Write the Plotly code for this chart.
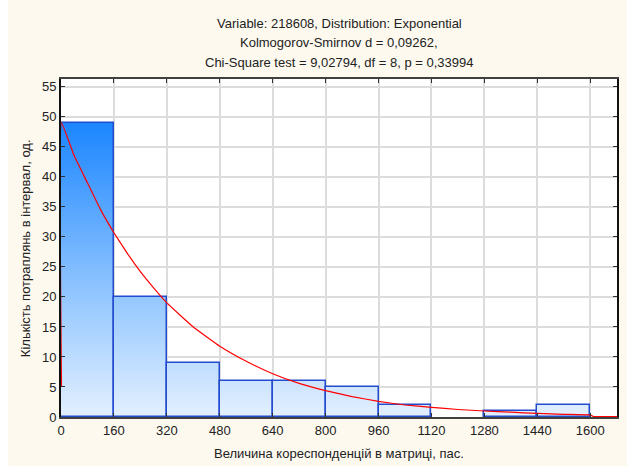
import plotly.graph_objects as go
import numpy as np

# ---- data ----
bin_left = [0, 160, 320, 480, 640, 800, 960, 1120, 1280, 1440, 1600]
counts = [49, 20, 9, 6, 6, 5, 2, 0, 1, 2, 0]
bin_width = 160

curve_x = [1.5, 1.5, 40, 80, 120, 160, 200, 240, 280, 320, 400, 480, 560, 640, 720, 800,
           880, 960, 1040, 1120, 1200, 1280, 1360, 1440, 1520, 1600, 1610, 1681]
curve_y = [5, 49, 43.5, 39, 34.5, 30.7, 27.3, 24.2, 21.5, 19, 15, 11.8, 9.3, 7.2, 5.6, 4.4,
           3.4, 2.6, 2.0, 1.6, 1.25, 1.0, 0.8, 0.6, 0.45, 0.35, 0.08, 0.08]

x_ticks = [0, 160, 320, 480, 640, 800, 960, 1120, 1280, 1440, 1600]
y_ticks = [0, 5, 10, 15, 20, 25, 30, 35, 40, 45, 50, 55]

title_lines = ["Variable: 218608, Distribution: Exponential",
               "Kolmogorov-Smirnov d = 0,09262,",
               "Chi-Square test = 9,02794, df = 8, p = 0,33994"]
x_title = "Величина кореспонденцій в матриці, пас."
y_title = "Кількість потраплянь в інтервал, од."

# ---- build gradient-filled bars (layers drawn from tall to short) ----
centers = [b + bin_width / 2 for b in bin_left]
levels = np.arange(max(counts), 0, -0.25)
gx, gy, gc = [], [], []
for L in levels:
    for c, v in zip(centers, counts):
        if v > 0:
            gx.append(c)
            gy.append(min(v, L))
            gc.append(L)

ox = [c for c, v in zip(centers, counts) if v > 0]
oy = [v for v in counts if v > 0]

W, H = 627, 466
ml, mr, mt, mb = 61, 8, 79, 49
pw, ph = W - ml - mr, H - mt - mb

fig = go.Figure()
fig.add_trace(go.Bar(
    x=gx, y=gy, width=bin_width,
    marker=dict(color=gc, cmin=0, cmax=max(counts),
                colorscale=[[0, "rgb(228,240,255)"], [0.4, "rgb(150,200,255)"], [1, "rgb(28,134,255)"]],
                line=dict(width=0)),
    hoverinfo="skip", showlegend=False))
fig.add_trace(go.Bar(
    x=ox, y=oy, width=bin_width,
    marker=dict(color="rgba(0,0,0,0)", line=dict(color="rgb(35,75,205)", width=1.5)),
    showlegend=False))
fig.add_trace(go.Scatter(
    x=curve_x, y=curve_y, mode="lines",
    line=dict(color="rgb(255,0,0)", width=1.2, shape="spline", smoothing=0.3),
    showlegend=False))

font = dict(family="Liberation Sans, Arial, sans-serif", size=13, color="#222222")

axis_common = dict(showline=True, linecolor="#404040", linewidth=2, mirror="ticks",
                   ticks="inside", ticklen=4, tickcolor="#303030",
                   showgrid=True, gridcolor="#dcdcdc", gridwidth=1.5, zeroline=False,
                   tickfont=font, layer="above traces")

fig.update_layout(
    width=W, height=H,
    margin=dict(l=ml, r=mr, t=mt, b=mb),
    paper_bgcolor="#fdf9ef", plot_bgcolor="white",
    barmode="overlay", bargap=0,
    font=font,
    xaxis=dict(range=[0, 1681], tickvals=x_ticks, **axis_common),
    yaxis=dict(range=[0, 56.3], tickvals=y_ticks, **axis_common),
)
fig.update_yaxes(linecolor="#111111")

# white strip along the left edge of the picture
fig.add_shape(type="rect", xref="paper", yref="paper",
              x0=-ml / pw, x1=(8 - ml) / pw, y0=-mb / ph, y1=(H - mb) / ph,
              fillcolor="white", line=dict(width=0), layer="below")

for text, ypix in zip(title_lines, [23, 43, 62]):
    fig.add_annotation(text=text, xref="paper", yref="paper", x=0.5,
                       y=(H - mb - ypix) / ph, xanchor="center", yanchor="middle",
                       showarrow=False, font=font)
fig.add_annotation(text=x_title, xref="paper", yref="paper", x=0.5,
                   y=(H - mb - 453) / ph, xanchor="center", yanchor="middle",
                   showarrow=False, font=font)
fig.add_annotation(text=y_title, xref="paper", yref="paper",
                   x=(25 - ml) / pw, y=0.5, textangle=-90,
                   xanchor="center", yanchor="middle", showarrow=False, font=font)

fig.write_html("out.html")
